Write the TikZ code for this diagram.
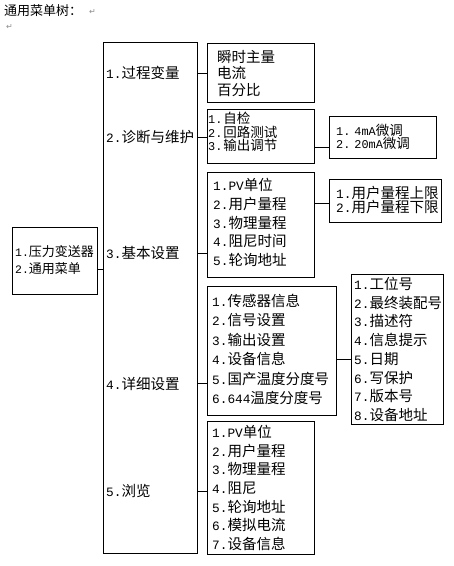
\documentclass[tikz,border=0pt]{standalone}
\usepackage{fontspec}
\setmainfont{Noto Sans CJK SC}
\newfontfamily\mono[Scale=0.88]{Liberation Mono}
\newfontfamily\symf{DejaVu Sans}
\newcommand\nm[1]{{\mono #1}}
\begin{document}
\begin{tikzpicture}[x=1pt,y=-1pt,
  box/.style={draw=black, line width=0.9pt, anchor=north west, inner sep=0pt, outer sep=0pt},
  txt/.style={anchor=west, inner sep=0pt, align=left, font=\fontsize{14.5}{#1}\selectfont},
  txt/.default=18.7,
  conn/.style={draw=black, line width=0.9pt},
  retmark/.style={inner sep=0pt, text=black!45, font=\symf\fontsize{8}{8}\selectfont}]
\useasboundingbox[fill=white] (0,0) rectangle (454,566);

% title
\node[anchor=west, inner sep=0pt, font=\fontsize{13}{14}\selectfont] (title) at (4,10.5) {通用菜单树：};
\node[retmark] (ret1) at (92.5,12) {↵};
\node[retmark] (ret2) at (9.5,27) {↵};

% boxes
\node[box, minimum width=85, minimum height=67] (root) at (12,227) {};
\node[box, minimum width=94, minimum height=511] (main) at (103,42) {};
\node[box, minimum width=107, minimum height=59] (b1) at (207,43) {};
\node[box, minimum width=107, minimum height=54] (b2) at (207,109) {};
\node[box, minimum width=107, minimum height=42] (b2a) at (329,116) {};
\node[box, minimum width=107, minimum height=105] (b3) at (207,172) {};
\node[box, minimum width=112, minimum height=43] (b3a) at (329,179) {};
\node[box, minimum width=129, minimum height=129] (b4) at (207,286) {};
\node[box, minimum width=92, minimum height=150] (b4a) at (351,274) {};
\node[box, minimum width=107, minimum height=133] (b5) at (207,421) {};

% texts
\node[txt=17, font=\fontsize{13}{17}\selectfont] (troot) at (15,260.5) {\nm{1.}压力变送器\\\nm{2.}通用菜单};
\node[txt] (m1) at (106,73) {\nm{1.}过程变量};
\node[txt] (m2) at (106,137) {\nm{2.}诊断与维护};
\node[txt] (m3) at (106,253) {\nm{3.}基本设置};
\node[txt] (m4) at (106,384) {\nm{4.}详细设置};
\node[txt] (m5) at (106,491) {\nm{5.}浏览};

\node[txt=16.5] (t1) at (217,73.5) {瞬时主量\\电流\\百分比};
\node[txt, font=\fontsize{13.5}{11.8}\selectfont] (t2) at (208,132) {\nm{1.}\kern1pt自检\\\nm{2.}\kern1pt回路测试\\\nm{3.}\kern1pt输出调节};
\node[txt, font=\fontsize{13.5}{12.5}\selectfont] (t2a) at (336,137) {\nm{1.}\kern4pt\nm{4mA}微调\\\nm{2.}\kern4pt\nm{20mA}微调};
\node[txt=18.75] (t3) at (213,222.5) {\nm{1.PV}单位\\\nm{2.}用户量程\\\nm{3.}物理量程\\\nm{4.}阻尼时间\\\nm{5.}轮询地址};
\node[txt=14] (t3a) at (336,200) {\nm{1.}用户量程上限\\\nm{2.}用户量程下限};
\node[txt=19.4] (t4) at (212,349.5) {\nm{1.}传感器信息\\\nm{2.}信号设置\\\nm{3.}输出设置\\\nm{4.}设备信息\\\nm{5.}国产温度分度号\\\nm{6.644}温度分度号};
\node[txt=18.7] (t4a) at (354,349.5) {\nm{1.}工位号\\\nm{2.}最终装配号\\\nm{3.}描述符\\\nm{4.}信息提示\\\nm{5.}日期\\\nm{6.}写保护\\\nm{7.}版本号\\\nm{8.}设备地址};
\node[txt=18.7] (t5) at (212,488) {\nm{1.PV}单位\\\nm{2.}用户量程\\\nm{3.}物理量程\\\nm{4.}阻尼\\\nm{5.}轮询地址\\\nm{6.}模拟电流\\\nm{7.}设备信息};

% connector levels
\coordinate (y0) at (0,269);
\coordinate (y1) at (0,73);
\coordinate (y2) at (0,137);
\coordinate (y3) at (0,253);
\coordinate (y4) at (0,383);
\coordinate (y5) at (0,491);
\coordinate (y2a) at (0,147);
\coordinate (y3a) at (0,203);
\coordinate (y4a) at (0,359);

\draw[conn] (root.east |- y0) -- (main.west |- y0);
\draw[conn] (main.east |- y1) -- (b1.west |- y1);
\draw[conn] (main.east |- y2) -- (b2.west |- y2);
\draw[conn] (main.east |- y3) -- (b3.west |- y3);
\draw[conn] (main.east |- y4) -- (b4.west |- y4);
\draw[conn] (main.east |- y5) -- (b5.west |- y5);
\draw[conn] (b2.east |- y2a) -- (b2a.west |- y2a);
\draw[conn] (b3.east |- y3a) -- (b3a.west |- y3a);
\draw[conn] (b4.east |- y4a) -- (b4a.west |- y4a);
\end{tikzpicture}
\end{document}
